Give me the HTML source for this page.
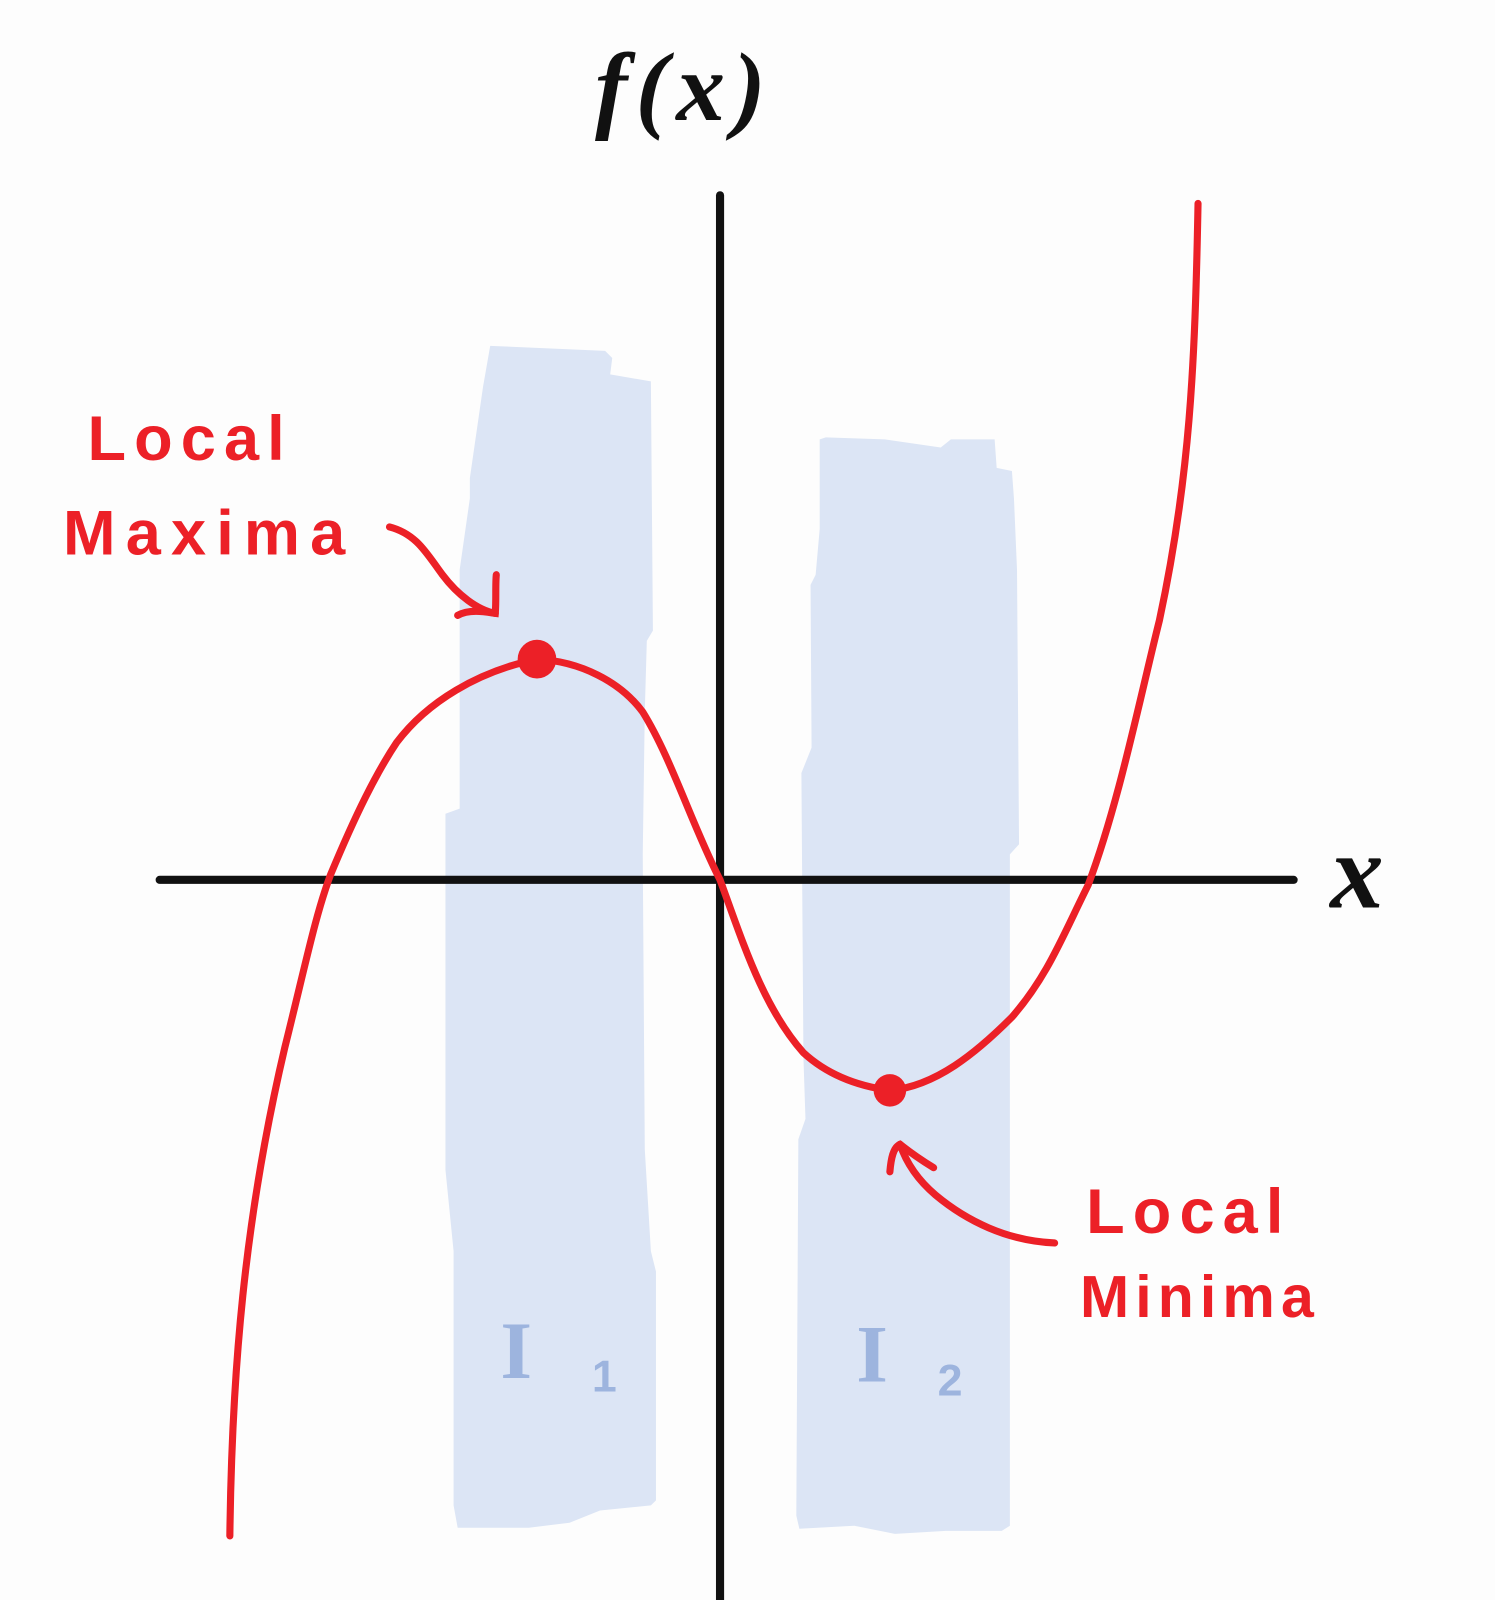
<!DOCTYPE html>
<html><head><style>
html,body{margin:0;padding:0;background:#fdfdfd;}
svg{display:block}
</style></head><body>
<svg width="1495" height="1600" viewBox="0 0 1470 1573" preserveAspectRatio="none" xmlns="http://www.w3.org/2000/svg">
<rect width="1470" height="1573" fill="#fdfdfd"/>
<path d="M482,340 L595,345 L602,352 L600,368 L640,375 L642,620 L636,630 L634,700 L632,840 L634,1130 L640,1230 L645,1250 L645,1475 L640,1480 L590,1485 L560,1497 L520,1502 L450,1502 L446,1480 L446,1230 L438,1150 L438,1000 L438,800 L452,795 L452,560 L462,490 L462,470 L475,380 Z" fill="#dce5f5"/>
<path d="M812,430 L870,432 L925,440 L935,432 L978,432 L980,460 L995,463 L997,490 L1000,560 L1002,830 L993,840 L993,1000 L993,1500 L985,1505 L930,1505 L880,1508 L840,1500 L786,1503 L783,1490 L785,1120 L792,1100 L790,1040 L788,760 L798,735 L797,575 L802,565 L806,520 L806,432 Z" fill="#dce5f5"/>
<line x1="157" y1="865" x2="1272" y2="865" stroke="#111" stroke-width="8" stroke-linecap="round"/>
<line x1="708" y1="192" x2="708" y2="1573" stroke="#111" stroke-width="8" stroke-linecap="round"/>
<path d="M226,1510 C228,1350 240,1200 280,1030 C300,950 310,900 325,860 C350,800 370,760 390,730 C420,690 470,660 528,648 C570,650 610,670 632,700 C660,745 680,810 708,865 C730,925 750,990 790,1035 C815,1058 845,1068 875,1072 C920,1068 960,1035 995,1000 C1030,960 1045,920 1070,870 C1100,790 1120,690 1140,610 C1170,470 1175,360 1178,200" fill="none" stroke="#ec2027" stroke-width="7" stroke-linecap="round"/>
<circle cx="528" cy="648" r="19" fill="#ec2027"/>
<circle cx="875" cy="1072" r="16" fill="#ec2027"/>
<path d="M383,518 C410,525 420,545 435,565 C450,585 470,600 487,603" fill="none" stroke="#ec2027" stroke-width="7" stroke-linecap="round"/>
<path d="M450,605 C462,598 480,602 487,603 C488,590 487,575 488,565" fill="none" stroke="#ec2027" stroke-width="7" stroke-linecap="round"/>
<path d="M1037,1222 C990,1220 950,1200 920,1175 C900,1158 890,1140 885,1125" fill="none" stroke="#ec2027" stroke-width="7" stroke-linecap="round"/>
<path d="M875,1152 C876,1140 878,1128 885,1125 C895,1133 905,1140 918,1148" fill="none" stroke="#ec2027" stroke-width="7" stroke-linecap="round"/>
<g font-family="Liberation Sans, sans-serif" font-weight="bold" fill="#ec2027">
<text x="86" y="452" font-size="62" letter-spacing="8">Local</text>
<text x="62" y="545" font-size="62" letter-spacing="10">Maxima</text>
<text x="1068" y="1212" font-size="62" letter-spacing="8">Local</text>
<text x="1062" y="1295" font-size="58" letter-spacing="6">Minima</text>
</g>
<text x="585" y="118" font-family="Liberation Serif, serif" font-style="italic" font-weight="bold" font-size="96" fill="#111" letter-spacing="8">f(x)</text>
<text x="1308" y="892" font-family="Liberation Serif, serif" font-style="italic" font-weight="bold" font-size="105" fill="#111">x</text>
<text x="492" y="1355" font-family="Liberation Serif, serif" font-weight="bold" font-size="80" fill="#9db4de">I</text>
<text x="582" y="1368" font-family="Liberation Sans, sans-serif" font-weight="bold" font-size="44" fill="#9db4de">1</text>
<text x="842" y="1358" font-family="Liberation Serif, serif" font-weight="bold" font-size="80" fill="#9db4de">I</text>
<text x="922" y="1372" font-family="Liberation Sans, sans-serif" font-weight="bold" font-size="44" fill="#9db4de">2</text>
</svg>
</body></html>
